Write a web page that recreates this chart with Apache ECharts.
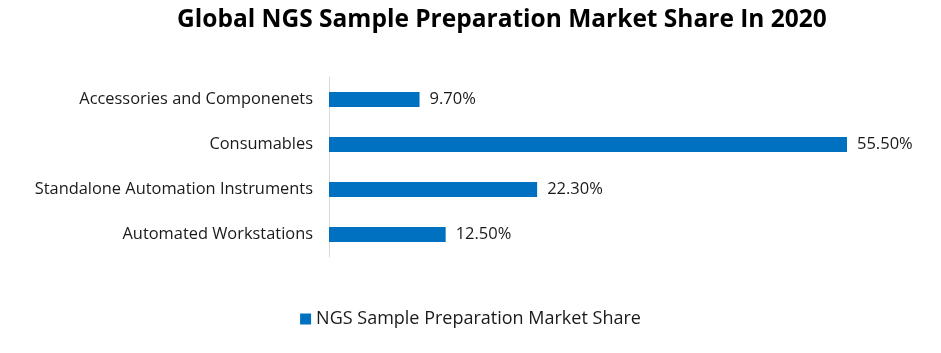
<!DOCTYPE html>
<html>
<head>
<meta charset="utf-8">
<script src="https://cdn.jsdelivr.net/npm/echarts@6/dist/echarts.min.js"></script>
<style>
  html, body { margin: 0; padding: 0; background: #fff; }
  #chart { width: 941px; height: 353px; }
</style>
</head>
<body>
<div id="chart"></div>
<script>
// segments, top to bottom
const categories = [
  'Accessories and Componenets',
  'Consumables',
  'Standalone Automation Instruments',
  'Automated Workstations'
];
const shares = [9.7, 55.5, 22.3, 12.5];
const seriesName = 'NGS Sample Preparation Market Share';

var myChart = echarts.init(document.getElementById('chart'));
var font = '"Open Sans", "Noto Sans", sans-serif';

var option = {
  backgroundColor: '#fff',
  animation: false,
  title: {
    text: 'Global NGS Sample Preparation Market Share In 2020',
    left: 177,
    top: 8,
    padding: 0,
    textStyle: { fontFamily: font, fontSize: 24.5, fontWeight: 'bold', color: '#000' }
  },
  legend: {
    bottom: 20,
    left: 'center',
    icon: 'rect',
    itemWidth: 11,
    itemHeight: 11,
    itemGap: 6,
    textStyle: { fontFamily: font, fontSize: 18, color: '#1a1a1a' },
    data: [seriesName]
  },
  grid: { left: 329, right: 52, top: 77, height: 180 },
  xAxis: {
    type: 'value',
    min: 0,
    max: 60,
    show: false
  },
  yAxis: {
    type: 'category',
    inverse: true,
    data: categories,
    axisLine: { lineStyle: { color: '#d9d9d9' } },
    axisTick: { show: false },
    axisLabel: { margin: 16, fontFamily: font, fontSize: 16.4, color: '#1a1a1a' }
  },
  series: [{
    name: seriesName,
    type: 'bar',
    data: shares,
    barWidth: 15,
    itemStyle: { color: '#0070C0' },
    label: {
      show: true,
      position: 'right',
      distance: 10,
      fontFamily: font,
      fontSize: 16.5,
      color: '#1a1a1a',
      formatter: function (p) { return p.value.toFixed(2) + '%'; }
    }
  }]
};
myChart.setOption(option);
</script>
</body>
</html>
